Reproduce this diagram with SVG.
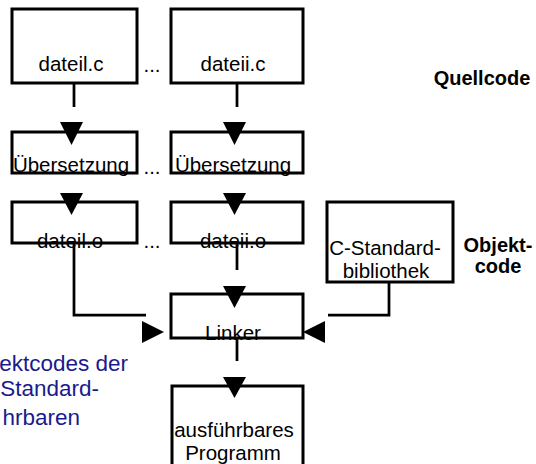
<svg xmlns="http://www.w3.org/2000/svg" width="536" height="464" viewBox="0 0 536 464">
<style>
.box{fill:#fff;stroke:#000;stroke-width:3}
.ln{fill:none;stroke:#000;stroke-width:2.75}
.ah{fill:#000}
.t{font-family:"Liberation Sans",Arial,sans-serif;font-size:20.5px;fill:#000;text-anchor:middle}
.b{font-family:"Liberation Sans",Arial,sans-serif;font-size:20px;font-weight:bold;fill:#000;text-anchor:middle}
.blue{font-family:"Liberation Sans",Arial,sans-serif;font-size:22.5px;fill:#1a1a8e;text-anchor:end}
</style>
<g id="n-dateil-c">
<rect class="box" x="12" y="9" width="125" height="74"/>
<text class="t" x="71" y="71">dateil.c</text>
</g>
<g id="n-dateii-c">
<rect class="box" x="171" y="9" width="132" height="74"/>
<text class="t" x="233" y="71">dateii.c</text>
</g>
<g id="n-uebers-1">
<rect class="box" x="12" y="132" width="125" height="41"/>
<text class="t" x="71" y="172">Übersetzung</text>
</g>
<g id="n-uebers-2">
<rect class="box" x="171" y="132" width="132" height="41"/>
<text class="t" x="233" y="172">Übersetzung</text>
</g>
<g id="n-dateil-o">
<rect class="box" x="12" y="202" width="125" height="41"/>
<text class="t" x="70" y="248">dateil.o</text>
</g>
<g id="n-dateii-o">
<rect class="box" x="171" y="202" width="132" height="41"/>
<text class="t" x="233" y="248">dateii.o</text>
</g>
<g id="n-cstd">
<rect class="box" x="327" y="202" width="126" height="80"/>
<text class="t" x="385" y="255">C-Standard-</text>
<text class="t" x="386" y="278">bibliothek</text>
</g>
<g id="n-linker">
<rect class="box" x="171" y="294" width="132" height="44"/>
<text class="t" x="233" y="340">Linker</text>
</g>
<g id="n-prog">
<rect class="box" x="172" y="386" width="131" height="90"/>
<text class="t" x="234" y="437">ausführbares</text>
<text class="t" x="233" y="460">Programm</text>
</g>
<g id="connectors">
<path class="ln" d="M74 83 V107"/>
<path class="ln" d="M237 83 V107"/>
<polygon class="ah" points="60,122 83,122 71.5,145"/>
<polygon class="ah" points="223,122 246,122 234.5,145"/>
<polygon class="ah" points="60,193 83,193 71.5,215"/>
<polygon class="ah" points="223,193 246,193 234.5,215"/>
<path class="ln" d="M74 243 V315 H146"/>
<path class="ln" d="M237 243 V270"/>
<polygon class="ah" points="223,286 246,286 234.5,308"/>
<polygon class="ah" points="142,321 142,343 164,332"/>
<path class="ln" d="M389 282 V315 H328"/>
<polygon class="ah" points="325,321 325,343 303,332"/>
<path class="ln" d="M237 337 V361"/>
<polygon class="ah" points="223,377 246,377 234.5,398"/>
</g>
<g id="dots">
<text class="t" x="152" y="72">...</text>
<text class="t" x="152" y="174">...</text>
<text class="t" x="152" y="248">...</text>
</g>
<g id="labels">
<text class="b" x="482" y="85">Quellcode</text>
<text class="b" x="498" y="252">Objekt-</text>
<text class="b" x="498" y="273">code</text>
<text class="blue" x="128" y="371">ektcodes der</text>
<text class="blue" x="99" y="396">Standard-</text>
<text class="blue" x="80" y="425">hrbaren</text>
</g>
</svg>
